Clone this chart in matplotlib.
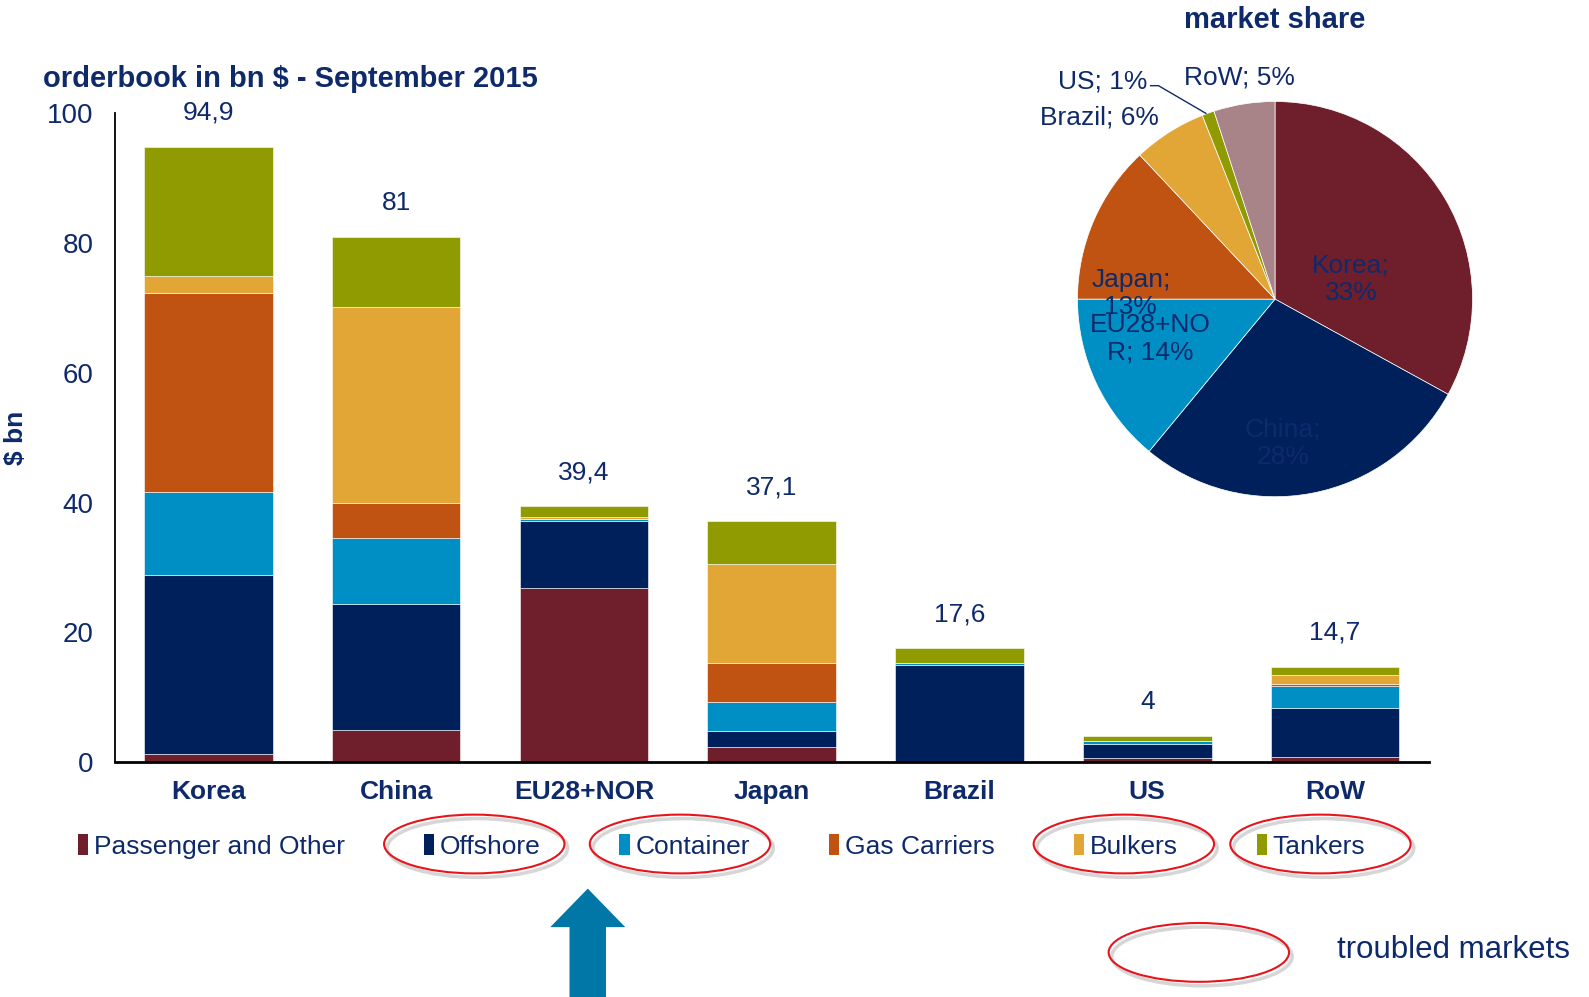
import numpy as np
import matplotlib
matplotlib.use("Agg")
import matplotlib.pyplot as plt
from matplotlib.patches import Patch, Ellipse, FancyArrow

plt.rcParams['font.family'] = ['Liberation Sans', 'DejaVu Sans']

navy = '#0E2A6B'

# orderbook in bn $ per region and ship type
categories = ['Korea', 'China', 'EU28+NOR', 'Japan', 'Brazil', 'US', 'RoW']
passenger = [1.3, 5.0, 26.9, 2.3, 0.0, 0.6, 0.8]
offshore = [27.6, 19.4, 10.3, 2.5, 15.0, 2.1, 7.6]
container = [12.8, 10.1, 0.3, 4.4, 0.2, 0.6, 3.3]
gas = [30.6, 5.5, 0.0, 6.1, 0.0, 0.0, 0.3]
bulkers = [2.7, 30.2, 0.3, 15.3, 0.1, 0.0, 1.4]
tankers = [19.9, 10.8, 1.6, 6.5, 2.3, 0.7, 1.3]
total_labels = ['94,9', '81', '39,4', '37,1', '17,6', '4', '14,7']

series_names = ['Passenger and Other', 'Offshore', 'Container', 'Gas Carriers', 'Bulkers', 'Tankers']
series_colors = ['#6E1F2B', '#00205B', '#008FC5', '#C05312', '#E2A636', '#8F9B00']

# market share pie
pie_labels = ['Korea', 'China', 'EU28+NOR', 'Japan', 'Brazil', 'US', 'RoW']
pie_share = [33, 28, 14, 13, 6, 1, 5]
pie_colors = ['#6E1F2B', '#00205B', '#008FC5', '#C05312', '#E2A636', '#8F9B00', '#A88488']

fig = plt.figure(figsize=(15.89, 9.97), dpi=100)
ax = fig.add_axes([0.0721, 0.2357, 0.8271, 0.6505])

x = np.arange(len(categories))
bottom = np.zeros(len(categories))
data = [passenger, offshore, container, gas, bulkers, tankers]
for vals, name, col in zip(data, series_names, series_colors):
    ax.bar(x, vals, 0.685, bottom=bottom, color=col, label=name,
           edgecolor='white', linewidth=0.4)
    bottom += np.array(vals)

for xi, tot, lab in zip(x, bottom, total_labels):
    ax.text(xi, tot + 5.2, lab, ha='center', va='center', fontsize=19, color=navy)

ax.set_xlim(-0.5, 6.5)
ax.set_ylim(0, 100)
ax.set_yticks([0, 20, 40, 60, 80, 100])
ax.set_xticks(x)
ax.set_xticklabels(categories, fontsize=19, fontweight='bold', color=navy)
ax.tick_params(axis='x', length=0, pad=13)
ax.tick_params(axis='y', length=0, pad=15, labelsize=20, labelcolor=navy)
ax.spines['top'].set_visible(False)
ax.spines['right'].set_visible(False)
ax.spines['left'].set_linewidth(1.3)
ax.spines['bottom'].set_linewidth(2)
ax.set_ylabel('$ bn', fontsize=19, fontweight='bold', color=navy, labelpad=14)
fig.text(0.027, 0.921, 'orderbook in bn $ - September 2015', fontsize=21,
         fontweight='bold', color=navy, va='center', ha='left')

# legend
handles = [Patch(facecolor=c, label=n) for n, c in zip(series_names, series_colors)]
fig.legend(handles=handles, loc='center', bbox_to_anchor=(0.454, 0.151), ncol=6,
           frameon=False, fontsize=19, handlelength=0.4, handleheight=0.8,
           handletextpad=0.2, columnspacing=3.0, labelcolor=navy)

# red ellipses marking troubled markets
ell_centers = [(468, 833), (671, 833), (1109, 833), (1303, 833), (1183, 940)]
for cx, cy in ell_centers:
    fx, fy = cx / 1568, 1 - cy / 984
    fig.patches.append(Ellipse((fx + 0.002, fy - 0.004), 178 / 1568, 58 / 984,
                               transform=fig.transFigure, fill=False,
                               edgecolor='#BBBBBB', linewidth=2.5, alpha=0.6))
    fig.patches.append(Ellipse((fx, fy), 178 / 1568, 58 / 984,
                               transform=fig.transFigure, fill=False,
                               edgecolor='#E8141B', linewidth=1.5))
fig.text(1319 / 1568, 1 - 938 / 984, 'troubled markets', fontsize=22.5,
         color=navy, ha='left', va='center')

# blue arrow
fig.patches.append(FancyArrow(580 / 1568, 0.0, 0, 0.1087, width=36 / 1568,
                              head_width=74 / 1568, head_length=38 / 984,
                              length_includes_head=True, transform=fig.transFigure,
                              facecolor='#0077A6', edgecolor='none'))

# pie
pax = fig.add_axes([0.8024 - 0.1243, 0.700 - 0.1982, 0.2486, 0.3964])
pax.pie(pie_share, colors=pie_colors, startangle=90, counterclock=False,
        wedgeprops=dict(edgecolor='white', linewidth=0.5))
pax.set_xlim(-1, 1)
pax.set_ylim(-1, 1)
pax.set_aspect('auto')

pie_text = ['Korea;\n33%', 'China;\n28%', 'EU28+NO\nR; 14%', 'Japan;\n13%',
            'Brazil; 6%', 'US; 1%', 'RoW; 5%']
pie_text_pos = [(0.385, 0.10), (0.04, -0.73), (-0.63, -0.20), (-0.73, 0.03),
                (-0.887, 0.918), (-0.87, 1.10), (-0.18, 1.12)]
for t, (px, py) in zip(pie_text, pie_text_pos):
    pax.text(px, py, t, ha='center', va='center', fontsize=19, color=navy,
             linespacing=1.15, clip_on=False)
pax.plot([-0.63, -0.59, -0.35], [1.08, 1.08, 0.94], color=navy, lw=1, clip_on=False)
pax.text(0, 1.41, 'market share', ha='center', va='center', fontsize=21,
         fontweight='bold', color=navy, clip_on=False)

fig.savefig('out.png', dpi=100)
